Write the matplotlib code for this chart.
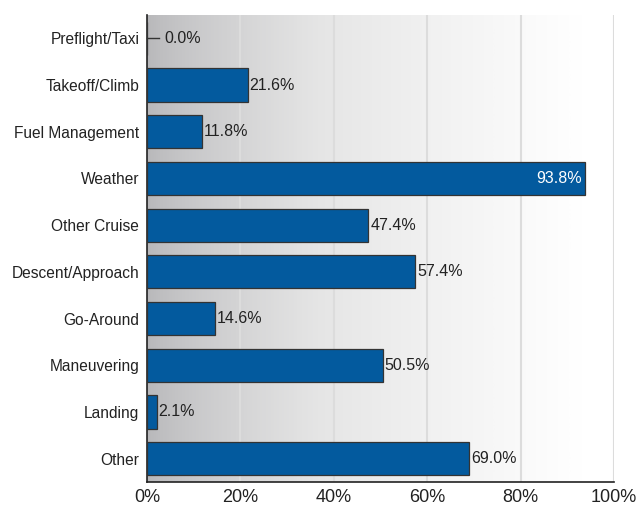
import matplotlib
matplotlib.use("Agg")
import matplotlib.pyplot as plt
import numpy as np
from matplotlib import font_manager

names = sorted({f.name for f in font_manager.fontManager.ttflist})
narrow = "Liberation Sans Narrow" if "Liberation Sans Narrow" in names else "Liberation Sans"
plt.rcParams["font.family"] = [narrow, "DejaVu Sans"]

categories = ["Preflight/Taxi", "Takeoff/Climb", "Fuel Management", "Weather",
              "Other Cruise", "Descent/Approach", "Go-Around", "Maneuvering",
              "Landing", "Other"]
values = [0.0, 21.6, 11.8, 93.8, 47.4, 57.4, 14.6, 50.5, 2.1, 69.0]
xticks = [0, 20, 40, 60, 80, 100]

BAR = "#035a9e"
fs = 13 if narrow.endswith("Narrow") else 11.5

fig = plt.figure(figsize=(6.4, 5.08), dpi=100)
ax = fig.add_axes([147 / 640, 26 / 508, 467 / 640, 467 / 508])

# grey-to-white background gradient
grad = np.clip(np.linspace(0.0, 1.07, 256), 0, 1) ** 0.75
ax.imshow(grad[np.newaxis, :], extent=[0, 100, -0.5, 9.5], aspect="auto",
          cmap=matplotlib.colors.LinearSegmentedColormap.from_list(
              "bg", [(0.72, 0.72, 0.73), (0.90, 0.90, 0.90), (1, 1, 1)]),
          zorder=0)

for x in xticks[1:]:
    ax.axvline(x, color="#dcdcdc", lw=1.5, zorder=1)

y = np.arange(len(categories))
ax.barh(y, values, height=0.71, color=BAR, edgecolor="#333333", lw=0.9, zorder=3)

for yi, v in zip(y, values):
    if v > 85:
        ax.text(v - 0.6, yi, f"{v:.1f}%", ha="right", va="center", color="white",
                fontsize=fs, zorder=4)
    elif v == 0:
        ax.plot([0, 2.6], [yi, yi], color="#333333", lw=1.0, zorder=4, clip_on=False)
        ax.text(3.8, yi, f"{v:.1f}%", ha="left", va="center", fontsize=fs,
                color="#222222", zorder=4)
    else:
        ax.text(v + 0.4, yi, f"{v:.1f}%", ha="left", va="center", fontsize=fs,
                color="#222222", zorder=4)

ax.set_xlim(0, 100)
ax.set_ylim(9.5, -0.5)
ax.set_yticks(y)
ax.set_yticklabels(categories, fontsize=fs - 0.3, color="#222222")
ax.set_xticks(xticks)
ax.set_xticklabels([f"{x}%" for x in xticks], fontsize=fs + 1.5, color="#222222")
ax.tick_params(axis="both", length=0)
ax.tick_params(axis="y", pad=5.5)
ax.tick_params(axis="x", pad=5)
for s in ["top", "right"]:
    ax.spines[s].set_visible(False)
ax.spines["left"].set_color("#222222")
ax.spines["bottom"].set_color("#222222")
ax.spines["left"].set_linewidth(1.2)
ax.spines["bottom"].set_linewidth(1.2)

fig.savefig("out.png", dpi=100)
